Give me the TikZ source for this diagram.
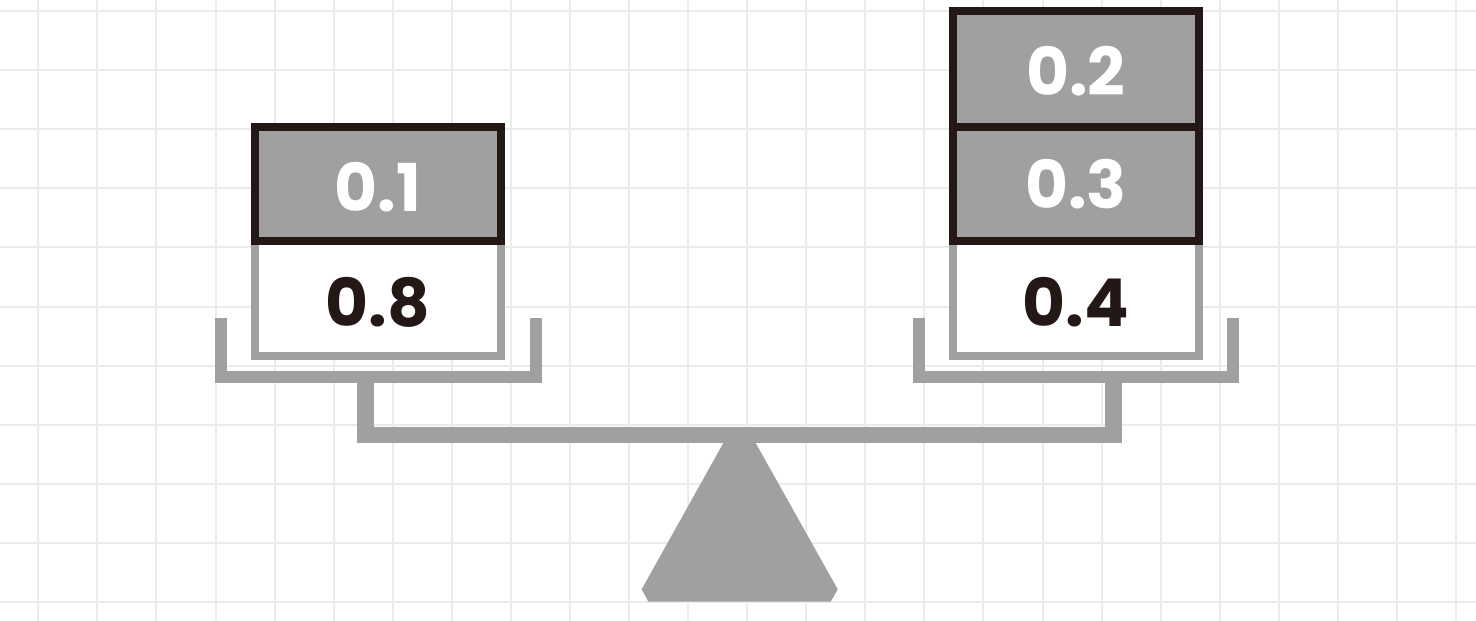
\documentclass[tikz,border=0pt]{standalone}
\usepackage{fontspec}
\setmainfont{Poppins}[BoldFont=* Bold]
\definecolor{inkdark}{HTML}{231815}
\definecolor{scalegray}{HTML}{A0A0A0}
\definecolor{gridgray}{HTML}{ECECEC}
\tikzset{
  gridline/.style={draw=gridgray, line width=2pt},
  darkbox/.style={draw=inkdark, fill=scalegray, line width=8pt},
  lightbox/.style={draw=scalegray, fill=white, line width=8pt},
  scalepart/.style={draw=scalegray, line width=12pt, miter limit=10},
  numtext/.style={inner sep=0pt, font=\fontsize{66}{66}\selectfont\bfseries},
}
\begin{document}
\begin{tikzpicture}[x=1pt,y=-1pt]
\useasboundingbox (0,0) rectangle (1476,621);
\fill[white] (0,0) rectangle (1476,621);
% grid
\foreach \k in {0,...,24} \draw[gridline] ({38.3+59.07*\k},0) -- ({38.3+59.07*\k},621);
\foreach \k in {0,...,10} \draw[gridline] (0,{11+59.1*\k}) -- (1476,{11+59.1*\k});
% fulcrum
\fill[scalegray] (725,440) -- (641.7,589.3) -- (648.3,601.7) -- (830.7,601.7) -- (837.7,589.3) -- (754,440) -- cycle;
% beam and stems
\coordinate (stemL) at (365.5,377);
\coordinate (stemR) at (1113.5,377);
\draw[scalegray, line width=16.5pt] (stemL) -- (365.5,435) -- (1113.5,435) -- (stemR);
% trays
\draw[scalepart] (221,318) -- (221,377) -- (536,377) -- (536,318);
\draw[scalepart] (919,318) -- (919,377) -- (1233,377) -- (1233,318);
% left stack
\draw[lightbox] (255,241) rectangle (501,355.5);
\draw[darkbox] (255,127) rectangle (501,241);
\node[numtext, text=white] (v01) at (378,187.5) {0.1};
\node[numtext, text=inkdark] (v08) at (378,302.5) {0.8};
% right stack
\draw[lightbox] (953,241) rectangle (1199,355.5);
\draw[darkbox] (953,127) rectangle (1199,241);
\draw[darkbox] (953,11) rectangle (1199,127);
\node[numtext, text=white] (v02) at (1076,71.5) {0.2};
\node[numtext, text=white] (v03) at (1076,184.5) {0.3};
\node[numtext, text=inkdark] (v04) at (1076,302.5) {0.4};
\end{tikzpicture}
\end{document}
